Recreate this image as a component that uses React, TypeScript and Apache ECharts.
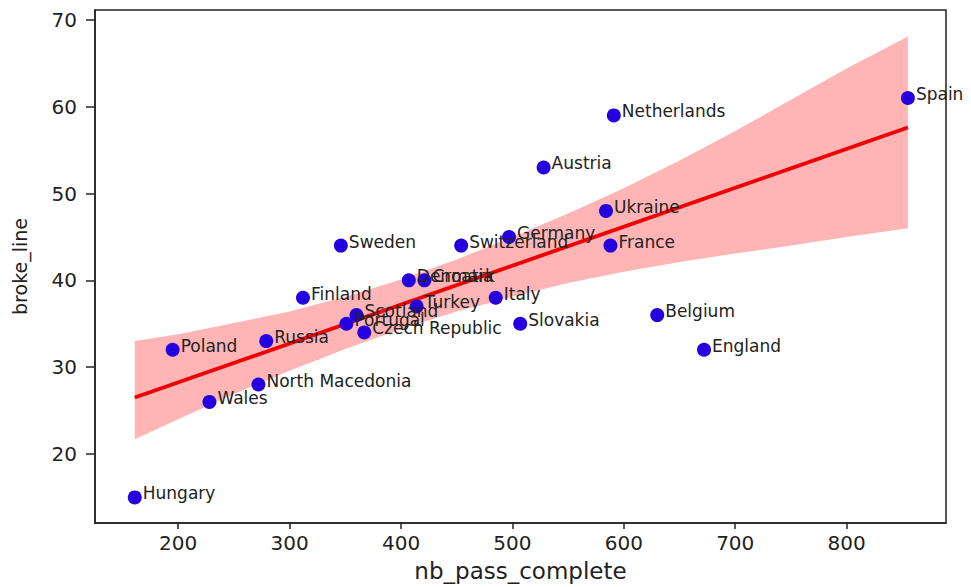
import React, { useEffect, useRef } from "react";
import * as echarts from "echarts";

const countries = [
  "Hungary", "Poland", "Wales", "North Macedonia", "Russia", "Finland", "Sweden",
  "Portugal", "Scotland", "Czech Republic", "Denmark", "Croatia", "Turkey",
  "Switzerland", "Italy", "Germany", "Slovakia", "Austria", "Ukraine", "France",
  "Netherlands", "Belgium", "England", "Spain",
];
const nbPassComplete = [
  161, 195, 228, 272, 279, 312, 346, 351, 360, 367, 407, 421, 414,
  454, 485, 497, 507, 528, 584, 588, 591, 630, 672, 855,
];
const brokeLine = [
  15, 32, 26, 28, 33, 38, 44, 35, 36, 34, 40, 40, 37,
  44, 38, 45, 35, 53, 48, 44, 59, 36, 32, 61,
];

// regression line
const fitX = [161, 855];
const fitY = [26.5, 57.6];

// confidence band
const bandX = [161, 200, 250, 300, 350, 400, 450, 500, 550, 600, 650, 700, 750, 800, 855];
const bandUpper = [33.0, 33.8, 35.1, 36.4, 38.1, 40.1, 42.4, 45.0, 47.7, 50.6, 53.8, 57.2, 60.8, 64.4, 68.1];
const bandLower = [21.7, 24.0, 26.9, 29.6, 32.1, 34.4, 36.4, 38.1, 39.7, 41.0, 42.1, 43.1, 44.0, 45.0, 46.0];

const xTicks = [200, 300, 400, 500, 600, 700, 800];
const yTicks = [20, 30, 40, 50, 60, 70];

const FONT = "DejaVu Sans";
const TXT = "#222";

export default function App() {
  const ref = useRef<HTMLDivElement>(null);
  useEffect(() => {
    if (!ref.current) return;
    const chart = echarts.init(ref.current, null, { renderer: "svg" });
    const scatterData = countries.map((c, i) => ({ name: c, value: [nbPassComplete[i], brokeLine[i]] }));
    chart.setOption({
      animation: false,
      backgroundColor: "#fff",
      grid: {
        left: 95, right: 25, top: 10, bottom: 59,
        show: true, borderColor: "#222", borderWidth: 1.5, backgroundColor: "transparent",
      },
      xAxis: {
        type: "value",
        min: 125.3,
        max: 889.2,
        name: "nb_pass_complete",
        nameLocation: "middle",
        nameGap: 36,
        nameTextStyle: { fontFamily: FONT, fontSize: 23, color: TXT },
        axisLine: { show: true, lineStyle: { color: "#222", width: 1.5 } },
        axisTick: { show: true, length: 6, lineStyle: { color: "#222", width: 1.5 }, customValues: xTicks },
        axisLabel: { fontFamily: FONT, fontSize: 20, color: TXT, margin: 10, customValues: xTicks },
        splitLine: { show: false },
      },
      yAxis: {
        type: "value",
        min: 12.05,
        max: 71.14,
        name: "broke_line",
        nameLocation: "middle",
        nameGap: 66,
        nameRotate: 90,
        nameTextStyle: { fontFamily: FONT, fontSize: 19, color: TXT },
        axisLine: { show: true, lineStyle: { color: "#222", width: 1.5 } },
        axisTick: { show: true, length: 9, lineStyle: { color: "#222", width: 1.5 }, customValues: yTicks },
        axisLabel: { fontFamily: FONT, fontSize: 20, color: TXT, margin: 18, customValues: yTicks },
        splitLine: { show: false },
      },
      series: [
        {
          type: "custom",
          z: 1,
          silent: true,
          data: [[bandX[0], bandUpper[0]]],
          renderItem: (_params: any, api: any) => {
            const pts: number[][] = [];
            for (let i = 0; i < bandX.length; i++) pts.push(api.coord([bandX[i], bandUpper[i]]));
            for (let i = bandX.length - 1; i >= 0; i--) pts.push(api.coord([bandX[i], bandLower[i]]));
            return {
              type: "polygon",
              shape: { points: pts },
              style: { fill: "#ffb5b5", stroke: "none" },
            };
          },
        },
        {
          type: "line",
          z: 2,
          data: fitX.map((x, i) => [x, fitY[i]]),
          showSymbol: false,
          lineStyle: { color: "#f00000", width: 3.8 },
        },
        {
          type: "scatter",
          z: 3,
          data: scatterData,
          symbolSize: 14,
          itemStyle: { color: "#2400e0", opacity: 1 },
          label: {
            show: true,
            formatter: "{b}",
            position: [15, 3],
            align: "left",
            verticalAlign: "middle",
            fontFamily: FONT,
            fontSize: 17,
            color: TXT,
          },
        },
      ],
    });
    return () => chart.dispose();
  }, []);
  return <div ref={ref} style={{ width: 971, height: 587, position: "absolute", left: 0, top: 0 }} />;
}
